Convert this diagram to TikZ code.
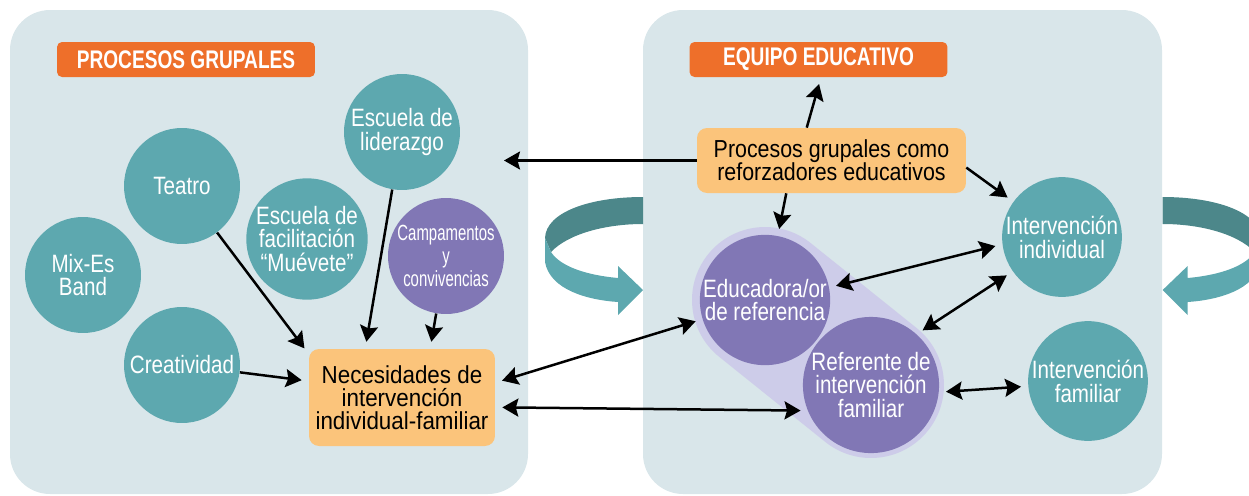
\documentclass[tikz,border=0pt]{standalone}
\usepackage{fontspec}
\setmainfont{Liberation Sans}[FakeStretch=0.82]
\newfontfamily\titulo{Liberation Sans}[FakeStretch=0.75]
\newfontfamily\estrecha{Liberation Sans}[FakeStretch=0.68]
\newfontfamily\cajaancha{Liberation Sans}[FakeStretch=0.91]
\newfontfamily\cajamedia{Liberation Sans}[FakeStretch=0.87]
\usetikzlibrary{arrows.meta}

\definecolor{panel}{HTML}{D9E6EA}
\definecolor{verde}{HTML}{5DA8AF}
\definecolor{verdeosc}{HTML}{4C878A}
\definecolor{morado}{HTML}{8177B5}
\definecolor{lila}{HTML}{CDCCE9}
\definecolor{naranja}{HTML}{EE6F2A}
\definecolor{amarillo}{HTML}{FBC47B}

\begin{document}
\begin{tikzpicture}[x=0.02cm,y=-0.02cm,
	circulo/.style={circle,fill=verde,text=white,minimum size=2.32cm,inner sep=0pt,align=center,font=\fontsize{14.3}{13.6}\selectfont},
	circulomorado/.style={circulo,fill=morado},
	etiqueta/.style={rectangle,rounded corners=0.1cm,fill=naranja,text=white,minimum width=5.16cm,minimum height=0.7cm,inner sep=0pt,font=\titulo\bfseries\fontsize{14.5}{15}\selectfont},
	caja/.style={rectangle,rounded corners=0.2cm,fill=amarillo,align=center,inner sep=0pt},
	punta/.tip={Stealth[length=3.2mm,width=3.6mm,inset=0.5mm]},
	flecha/.style={-punta,line width=0.05cm,shorten >=0.14cm},
	dobleflecha/.style={punta-punta,line width=0.05cm,shorten <=0.14cm,shorten >=0.14cm}]
  \path[use as bounding box] (0,0) rectangle (1249,495);
  \clip (0,0) rectangle (1249,495);

	% Paneles
	\fill[panel,rounded corners=0.8cm] (10,10) rectangle (528,494);
	\fill[panel,rounded corners=0.8cm] (643,10) rectangle (1162,494);

	% Cinta izquierda
	\fill[verdeosc] (643,197) .. controls (590,197) and (546,212) .. (545,238) -- (551,252) .. controls (568,234) and (605,224) .. (643,224) -- cycle;
	\fill[verde] (545,238) -- (545,262) .. controls (550,290) and (588,300) .. (618,302) -- (618,315) -- (643,290) -- (618,266) -- (618,278) .. controls (585,275) and (560,266) .. (551,252) -- cycle;

	% Cinta derecha
	\begin{scope}[xshift=36.12cm,xscale=-1]
	\fill[verdeosc] (643,197) .. controls (590,197) and (546,212) .. (545,238) -- (551,252) .. controls (568,234) and (605,224) .. (643,224) -- cycle;
	\fill[verde] (545,238) -- (545,262) .. controls (550,290) and (588,300) .. (618,302) -- (618,315) -- (643,290) -- (618,266) -- (618,278) .. controls (585,275) and (560,266) .. (551,252) -- cycle;
	\end{scope}

	% Etiquetas
	\node[etiqueta] (procgr) at (186,59.5) {PROCESOS GRUPALES};
	\node[etiqueta] (equipo) at (818.5,59.5) {EQUIPO EDUCATIVO};

	% Circulos procesos grupales
	\node[circulo] (teatro) at (182,186) {Teatro};
	\node[circulo] (mixes) at (83,275) {Mix-Es\\Band};
	\node[circulo] (crea) at (182,365) {Creatividad};
	\node[circulo] (facil) at (307,239) {Escuela de\\facilitación\\“Muévete”};
	\node[circulo] (lider) at (402,132) {Escuela de\\liderazgo};
	\node[circulomorado,font=\estrecha\fontsize{12.5}{13}\selectfont] (campa) at (446,256) {Campamentos\\y\\convivencias};

	% Capsula referentes
	\coordinate (c1) at (765,300);
	\coordinate (c2) at (871,385);
	\draw[line width=2.92cm,line cap=round,color=lila] (c1) -- (c2);

	% Circulos equipo educativo
	\node[circulomorado] (edu) at (c1) {Educadora/or\\de referencia};
	\node[circulomorado] (ref) at (c2) {Referente de\\intervención\\familiar};
	\node[circulo] (indiv) at (1062,237) {Intervención\\individual};
	\node[circulo] (fam) at (1088,381) {Intervención\\familiar};

	% Cajas
	\node[caja,minimum width=3.72cm,minimum height=1.94cm,font=\cajaancha\fontsize{14}{13.2}\selectfont] (nec) at (402,397.5) {Necesidades de\\intervención\\individual-familiar};
	\node[caja,minimum width=5.38cm,minimum height=1.3cm,font=\cajamedia\fontsize{14}{13.2}\selectfont] (proc) at (831.5,160.5) {Procesos grupales como\\reforzadores educativos};
	\coordinate (retorno) at (504,160.5);

	% Flechas
	\draw[flecha] (teatro) -- (nec.155);
	\draw[flecha] (crea) -- (nec.170);
	\draw[flecha] (lider) -- (nec.127);
	\draw[flecha] (campa) -- (nec.60);
	\draw[flecha,shorten >=0pt] (proc.west) -- (retorno);
	\draw[flecha] (proc.127) -- (equipo.278);
	\draw[flecha] (proc.216) -- (edu);
	\draw[flecha] (proc.-3) -- (indiv);
	\draw[dobleflecha] (nec.9) -- (edu);
	\draw[dobleflecha] (nec.-6) -- (ref.202);
	\draw[dobleflecha] (edu.11) -- (indiv.187);
	\draw[dobleflecha] (ref.48) -- (indiv.215);
	\draw[dobleflecha] (ref.-6) -- (fam.185);
\end{tikzpicture}
\end{document}
